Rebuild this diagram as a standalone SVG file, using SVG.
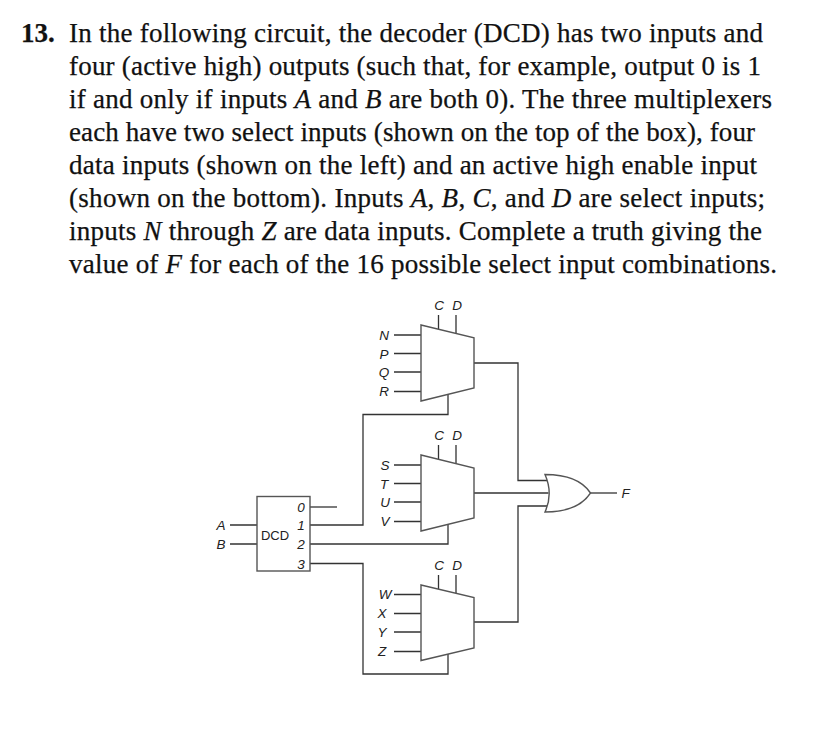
<svg xmlns="http://www.w3.org/2000/svg" width="813" height="730" viewBox="0 0 813 730">
<style>
.t{font-family:"Liberation Serif","Times New Roman",serif;font-size:27px;fill:#111;stroke:#111;stroke-width:.25}
.i{font-style:italic}
.b{font-weight:bold}
.l{font-family:"Liberation Sans",Arial,sans-serif;font-size:13.500px;font-style:italic;fill:#222;text-anchor:middle}
.d{font-family:"Liberation Sans",Arial,sans-serif;font-size:13px;fill:#222;text-anchor:middle}
.w{fill:none;stroke:#333;stroke-width:1.3}
.s{fill:#fff;stroke:#555;stroke-width:1.4}
</style>
<rect width="813" height="730" fill="#fff"/>
<g id="question">
<text class="t b" x="21" y="42">13.</text>
<text class="t" x="69" y="42" textLength="694">In the following circuit, the decoder (DCD) has two inputs and</text>
<text class="t" x="69" y="75" textLength="692">four (active high) outputs (such that, for example, output 0 is 1</text>
<text class="t" x="69" y="108" textLength="703">if and only if inputs <tspan class="i">A</tspan> and <tspan class="i">B</tspan> are both 0). The three multiplexers</text>
<text class="t" x="69" y="141" textLength="686">each have two select inputs (shown on the top of the box), four</text>
<text class="t" x="69" y="174" textLength="688">data inputs (shown on the left) and an active high enable input</text>
<text class="t" x="69" y="207" textLength="696">(shown on the bottom). Inputs <tspan class="i">A</tspan>, <tspan class="i">B</tspan>, <tspan class="i">C</tspan>, and <tspan class="i">D</tspan> are select inputs;</text>
<text class="t" x="69" y="240" textLength="693">inputs <tspan class="i">N</tspan> through <tspan class="i">Z</tspan> are data inputs. Complete a truth giving the</text>
<text class="t" x="69" y="273" textLength="708">value of <tspan class="i">F</tspan> for each of the 16 possible select input combinations.</text>
</g>
<g id="connectors" class="w">
<path d="M394 335H421M394 353.500H421M394 372H421M394 391.500H421"/>
<path d="M394 465H421M394 483.500H421M394 502H421M394 521.500H421"/>
<path d="M394 594.500H421M394 613.500H421M394 632H421M394 651.500H421"/>
<path d="M438.500 315V329M456 315V333M438.500 445V459M456 445V463M438.500 575V589M456 575V593"/>
<path d="M474 363H518V480.500H547"/>
<path d="M474 493H548.500"/>
<path d="M474 622H518V506H547"/>
<path d="M448 394V414.500H363V525H310"/>
<path d="M448 524V544H310"/>
<path d="M310 563.500H363V674H448V654"/>
<path d="M310 507H337"/>
<path d="M230 525H257M230 544H257"/>
<path d="M590 493H617"/>
</g>
<g id="mux1"><path class="s" d="M421 325L474 337.700V388L421 401Z"/>
<text class="l" x="384" y="340">N</text><text class="l" x="384" y="358.500">P</text><text class="l" x="384" y="377">Q</text><text class="l" x="384" y="396">R</text>
<text class="l" x="439" y="309.500">C</text><text class="l" x="457" y="309.500">D</text></g>
<g id="mux2"><path class="s" d="M421 455L474 468V518L421 531Z"/>
<text class="l" x="385" y="470">S</text><text class="l" x="384" y="488.500">T</text><text class="l" x="385" y="507">U</text><text class="l" x="385" y="526">V</text>
<text class="l" x="439" y="440">C</text><text class="l" x="457" y="440">D</text></g>
<g id="mux3"><path class="s" d="M421 585L474 597.500V648L421 660.500Z"/>
<text class="l" x="385" y="599">W</text><text class="l" x="382" y="618">X</text><text class="l" x="382" y="637">Y</text><text class="l" x="382" y="656">Z</text>
<text class="l" x="439" y="570">C</text><text class="l" x="457" y="570">D</text></g>
<g id="dcd"><rect class="s" x="257" y="496.500" width="53" height="74.500"/>
<text class="d" x="275" y="540">DCD</text>
<text class="l" x="301" y="512">0</text><text class="l" x="301" y="530">1</text><text class="l" x="301" y="549">2</text><text class="l" x="301" y="568.500">3</text>
<text class="l" x="221" y="530">A</text><text class="l" x="221" y="549">B</text></g>
<g id="or"><path class="s" d="M545 474.500C566 474.500 582 480 590.500 493C582 506 566 512 545 512C550.500 500 550.500 487 545 474.500Z"/>
<text class="l" x="625.500" y="498">F</text></g>
</svg>
